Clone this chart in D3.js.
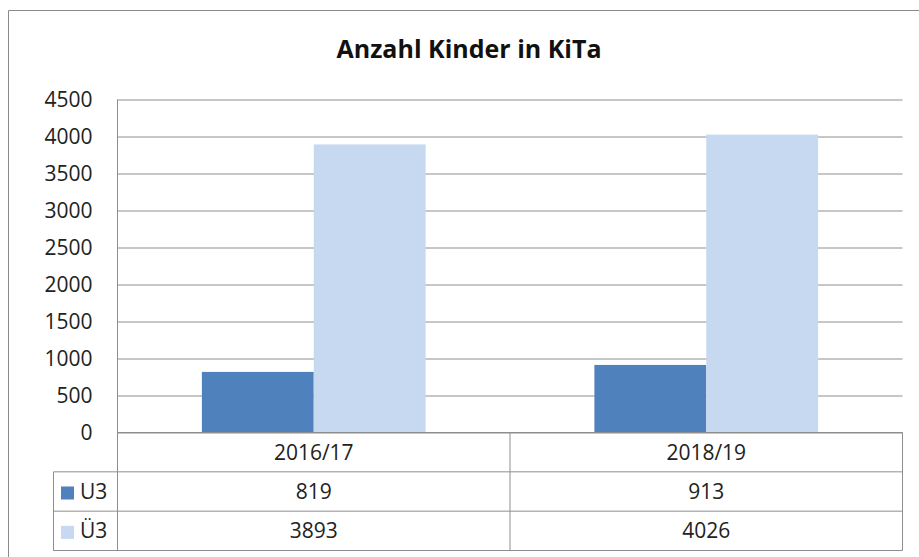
<!DOCTYPE html>
<html>
<head>
<meta charset="utf-8">
<script src="https://cdn.jsdelivr.net/npm/d3@7"></script>
<style>
  html, body { margin: 0; padding: 0; background: #fff; }
  text { font-family: 'Open Sans', sans-serif; fill: #222; }
</style>
</head>
<body>
<svg width="919" height="557"></svg>
<script>
// data
const categories = ['2016/17', '2018/19']
const seriesNames = ['U3', 'Ü3']
const u3Values = [819, 913]
const ue3Values = [3893, 4026]
const yTicks = [0, 500, 1000, 1500, 2000, 2500, 3000, 3500, 4000, 4500]
const seriesColors = ['#4f81bd', '#c6d9f1']

const svg = d3.select('svg')
const width = +svg.attr('width')
const height = +svg.attr('height')

const gridColor = '#8e8e8e'
const plot = { left: 117.5, right: 902.5, top: 99.5, bottom: 432.5 }

const rows = seriesNames.map((name, i) => ({
  name,
  color: seriesColors[i],
  values: i === 0 ? u3Values : ue3Values
}))

// outer chart frame (runs off the right and bottom of the picture)
svg.append('path')
  .attr('d', `M8.5,${height + 2} V10.5 H${width + 2}`)
  .attr('fill', 'none')
  .attr('stroke', '#8a8a8a')

svg.append('text')
  .attr('x', 469)
  .attr('y', 58)
  .attr('text-anchor', 'middle')
  .style('font-size', '25px')
  .style('font-weight', 'bold')
  .style('fill', '#111')
  .text('Anzahl Kinder in KiTa')

const yScale = d3.scaleLinear()
  .domain([0, 4500])
  .range([plot.bottom, plot.top])

const xCell = d3.scaleBand()
  .domain(categories)
  .range([plot.left, plot.right])

const xGroup = d3.scaleBand()
  .domain(categories)
  .range([plot.left, plot.right])
  .paddingInner(0.43)
  .paddingOuter(0.215)

const xSeries = d3.scaleBand()
  .domain(seriesNames)
  .range([0, xGroup.bandwidth()])

// gridlines + y labels
const yAxis = d3.axisLeft(yScale)
  .tickValues(yTicks)
  .tickSize(-(plot.right - plot.left))
  .tickPadding(25)
  .tickFormat(d3.format('d'))

const yAxisG = svg.append('g')
  .attr('transform', `translate(${plot.left},0)`)
  .call(yAxis)
yAxisG.select('.domain').remove()
yAxisG.selectAll('.tick line').attr('stroke', gridColor)
yAxisG.selectAll('.tick text')
  .attr('dy', '0.34em')
  .style('font-size', '21px')
  .style('font-family', "'Open Sans', sans-serif")
  .style('fill', '#222')

// bars
svg.append('g').selectAll('g')
  .data(rows)
  .enter().append('g')
  .attr('fill', d => d.color)
  .selectAll('rect')
  .data(d => d.values.map((v, i) => ({ series: d.name, cat: categories[i], value: v })))
  .enter().append('rect')
  .attr('x', d => xGroup(d.cat) + xSeries(d.series))
  .attr('y', d => yScale(d.value))
  .attr('width', xSeries.bandwidth())
  .attr('height', d => yScale(0) - yScale(d.value))

// data table under the plot
const tableLeft = 53.5
const rowScale = d3.scaleBand()
  .domain(['header'].concat(seriesNames))
  .range([plot.bottom, 550.5])

const table = svg.append('g')
  .attr('stroke', gridColor)
  .attr('fill', 'none')

// left axis line running down through the table
table.append('line')
  .attr('x1', plot.left).attr('x2', plot.left)
  .attr('y1', plot.top).attr('y2', rowScale.range()[1])

// zero line / table top
table.append('line')
  .attr('x1', plot.left).attr('x2', plot.right)
  .attr('y1', plot.bottom).attr('y2', plot.bottom)

// row separators for the series rows
seriesNames.forEach(name => {
  const y0 = rowScale(name)
  table.append('line')
    .attr('x1', tableLeft).attr('x2', plot.right)
    .attr('y1', y0).attr('y2', y0)
})
table.append('line')
  .attr('x1', tableLeft).attr('x2', plot.right)
  .attr('y1', rowScale.range()[1]).attr('y2', rowScale.range()[1])
table.append('line')
  .attr('x1', tableLeft).attr('x2', tableLeft)
  .attr('y1', rowScale(seriesNames[0])).attr('y2', rowScale.range()[1])

// column separators
categories.forEach(c => {
  const xr = xCell(c) + xCell.bandwidth()
  table.append('line')
    .attr('x1', xr).attr('x2', xr)
    .attr('y1', plot.bottom).attr('y2', rowScale.range()[1])
})

// header labels
svg.append('g').selectAll('text')
  .data(categories)
  .enter().append('text')
  .attr('x', d => xCell(d) + xCell.bandwidth() / 2)
  .attr('y', rowScale('header') + rowScale.bandwidth() / 2)
  .attr('dy', '0.36em')
  .attr('text-anchor', 'middle')
  .style('font-size', '21px')
  .text(d => d)

// series rows: legend key + values
const rowG = svg.append('g').selectAll('g')
  .data(rows)
  .enter().append('g')
  .attr('transform', d => `translate(0,${rowScale(d.name) + rowScale.bandwidth() / 2})`)

rowG.append('rect')
  .attr('x', 61)
  .attr('y', -5)
  .attr('width', 13)
  .attr('height', 13)
  .attr('fill', d => d.color)

rowG.append('text')
  .attr('x', 80)
  .attr('dy', '0.36em')
  .style('font-size', '21px')
  .text(d => d.name)

rowG.selectAll('text.val')
  .data(d => d.values.map((v, i) => ({ cat: categories[i], value: v })))
  .enter().append('text')
  .attr('class', 'val')
  .attr('x', d => xCell(d.cat) + xCell.bandwidth() / 2)
  .attr('dy', '0.36em')
  .attr('text-anchor', 'middle')
  .style('font-size', '21px')
  .text(d => d.value)
</script>
</body>
</html>
